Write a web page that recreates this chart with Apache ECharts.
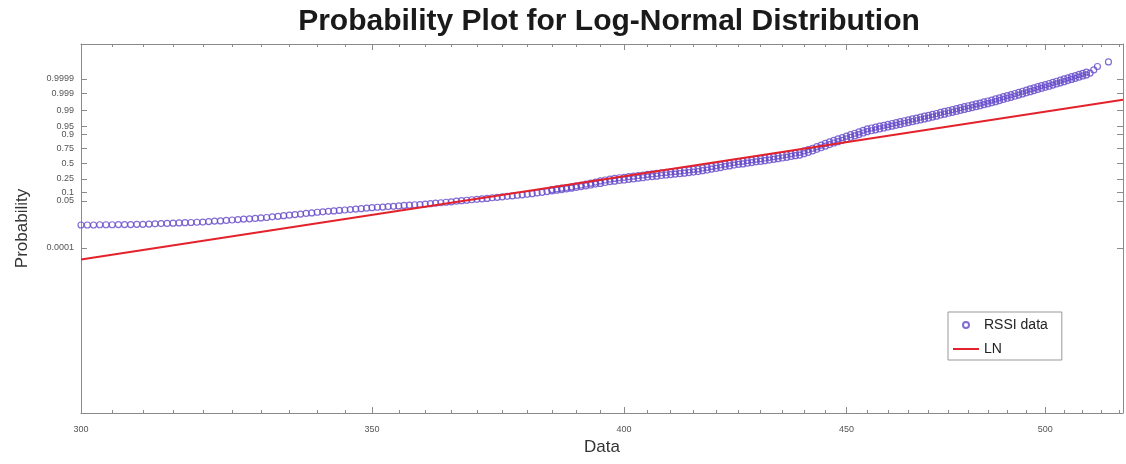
<!DOCTYPE html>
<html>
<head>
<meta charset="utf-8">
<script src="https://cdn.jsdelivr.net/npm/echarts@6/dist/echarts.min.js"></script>
<style>
  html, body { margin: 0; padding: 0; background: #fff; }
  #main { width: 1126px; height: 464px; }
</style>
</head>
<body>
<div id="main"></div>
<script>
// 数据 RSSI 值（x 轴，对数刻度）
const rssiX = [
  300,301,302,303,304,305,306,307,308,309,
  310,311,312,313,314,315,316,317,318,319,
  320,321,322,323,324,325,326,327,328,329,
  330,331,332,333,334,335,336,337,338,339,
  340,341,342,343,344,345,346,347,348,349,
  350,351,352,353,354,355,356,357,358,359,
  360,361,362,363,364,365,366,367,368,369,
  370,371,372,373,374,375,376,377,378,379,
  380,381,382,383,384,385,386,387,388,389,
  390,391,392,393,394,395,396,397,398,399,
  400,401,402,403,404,405,406,407,408,409,
  410,411,412,413,414,415,416,417,418,419,
  420,421,422,423,424,425,426,427,428,429,
  430,431,432,433,434,435,436,437,438,439,
  440,441,442,443,444,445,446,447,448,449,
  450,451,452,453,454,455,456,457,458,459,
  460,461,462,463,464,465,466,467,468,469,
  470,471,472,473,474,475,476,477,478,479,
  480,481,482,483,484,485,486,487,488,489,
  490,491,492,493,494,495,496,497,498,499,
  500,501,502,503,504,505,506,507,508,509,
  510,511,512,513,514,517
]
// 对应的正态分位数（概率轴的线性单位）
const rssiScore = [
  -2.71,-2.71,-2.71,-2.70,-2.70,-2.70,-2.69,-2.69,-2.69,-2.68,
  -2.68,-2.67,-2.66,-2.65,-2.64,-2.63,-2.62,-2.61,-2.60,-2.59,
  -2.58,-2.56,-2.54,-2.53,-2.51,-2.49,-2.47,-2.45,-2.44,-2.42,
  -2.40,-2.38,-2.35,-2.33,-2.30,-2.28,-2.25,-2.23,-2.20,-2.18,
  -2.15,-2.13,-2.11,-2.09,-2.07,-2.05,-2.03,-2.01,-1.99,-1.97,
  -1.95,-1.93,-1.92,-1.90,-1.89,-1.87,-1.85,-1.84,-1.82,-1.81,
  -1.79,-1.77,-1.75,-1.73,-1.71,-1.69,-1.66,-1.64,-1.62,-1.60,
  -1.58,-1.56,-1.54,-1.51,-1.49,-1.47,-1.45,-1.43,-1.40,-1.38,
  -1.36,-1.33,-1.30,-1.27,-1.24,-1.21,-1.18,-1.15,-1.12,-1.09,
  -1.06,-1.02,-0.99,-0.95,-0.91,-0.88,-0.84,-0.80,-0.78,-0.75,
  -0.73,-0.70,-0.68,-0.65,-0.63,-0.60,-0.58,-0.56,-0.53,-0.51,
  -0.49,-0.47,-0.45,-0.43,-0.40,-0.38,-0.36,-0.32,-0.29,-0.25,
  -0.22,-0.18,-0.14,-0.11,-0.07,-0.04,-0.02,0.01,0.04,0.07,
  0.09,0.12,0.15,0.18,0.21,0.24,0.27,0.31,0.34,0.37,
  0.43,0.49,0.55,0.62,0.69,0.76,0.83,0.90,0.96,1.02,
  1.08,1.15,1.21,1.27,1.34,1.40,1.44,1.48,1.52,1.56,
  1.60,1.64,1.68,1.72,1.76,1.80,1.84,1.88,1.92,1.96,
  2.00,2.04,2.08,2.13,2.17,2.21,2.25,2.29,2.34,2.38,
  2.42,2.46,2.50,2.54,2.59,2.63,2.67,2.72,2.77,2.82,
  2.87,2.91,2.96,3.01,3.06,3.11,3.16,3.21,3.26,3.31,
  3.35,3.40,3.45,3.50,3.55,3.60,3.65,3.70,3.75,3.80,
  3.85,3.90,3.98,4.12,4.27,4.47
]
// 重复的 RSSI 值（右侧较粗的那一段上沿）
const rssiX2 = [
  385,386,387,388,389,390,391,392,393,394,
  395,396,397,398,399,
  400,401,402,403,404,405,406,407,408,409,
  410,411,412,413,414,415,416,417,418,419,
  420,421,422,423,424,425,426,427,428,429,
  430,431,432,433,434,435,436,437,438,439,
  440,441,442,443,444,445,446,447,448,449,
  450,451,452,453,454,455,456,457,458,459,
  460,461,462,463,464,465,466,467,468,469,
  470,471,472,473,474,475,476,477,478,479,
  480,481,482,483,484,485,486,487,488,489,
  490,491,492,493,494,495,496,497,498,499,
  500,501,502,503,504,505,506,507,508,509,
  510,511
]
const rssiScore2 = [
  -1.15,-1.12,-1.09,-1.06,-1.03,-0.99,-0.95,-0.91,-0.87,-0.82,
  -0.77,-0.73,-0.69,-0.66,-0.63,
  -0.61,-0.58,-0.56,-0.53,-0.51,-0.48,-0.46,-0.44,-0.41,-0.39,
  -0.37,-0.35,-0.33,-0.31,-0.28,-0.26,-0.24,-0.20,-0.17,-0.13,
  -0.10,-0.06,-0.02,0.01,0.05,0.08,0.10,0.13,0.16,0.19,
  0.21,0.24,0.27,0.30,0.33,0.36,0.39,0.43,0.46,0.49,
  0.55,0.61,0.67,0.74,0.81,0.88,0.95,1.02,1.08,1.14,
  1.20,1.27,1.33,1.39,1.46,1.52,1.56,1.60,1.64,1.68,
  1.72,1.76,1.80,1.84,1.88,1.92,1.96,2.00,2.04,2.08,
  2.12,2.16,2.20,2.25,2.29,2.33,2.37,2.41,2.46,2.50,
  2.54,2.58,2.62,2.66,2.71,2.75,2.79,2.84,2.89,2.94,
  2.99,3.03,3.08,3.13,3.18,3.23,3.28,3.33,3.38,3.43,
  3.47,3.52,3.57,3.62,3.67,3.72,3.77,3.82,3.87,3.92,
  3.97,4.02
]
// 对数正态拟合线的两个端点
const lnX = [300, 521]
const lnScore = [-4.23, 2.80]

// 刻度
const xTicks = [300, 350, 400, 450, 500]
const probTicks = [0.0001, 0.05, 0.1, 0.25, 0.5, 0.75, 0.9, 0.95, 0.99, 0.999, 0.9999]

// 正态分布反函数（Acklam 近似），用来把概率刻度放到轴上
function norminv(p) {
  const a = [-39.6968302866538, 220.946098424521, -275.928510446969, 138.357751867269, -30.6647980661472, 2.50662827745924]
  const b = [-54.4760987982241, 161.585836858041, -155.698979859887, 66.8013118877197, -13.2806815528857]
  const c = [-0.00778489400243029, -0.322396458041136, -2.40075827716184, -2.54973253934373, 4.37466414146497, 2.93816398269878]
  const d = [0.00778469570904146, 0.32246712907004, 2.445134137143, 3.75440866190742]
  const pl = 0.02425
  let q, r
  if (p < pl) {
    q = Math.sqrt(-2 * Math.log(p))
    return (((((c[0]*q+c[1])*q+c[2])*q+c[3])*q+c[4])*q+c[5]) / ((((d[0]*q+d[1])*q+d[2])*q+d[3])*q+1)
  }
  if (p > 1 - pl) {
    q = Math.sqrt(-2 * Math.log(1 - p))
    return -(((((c[0]*q+c[1])*q+c[2])*q+c[3])*q+c[4])*q+c[5]) / ((((d[0]*q+d[1])*q+d[2])*q+d[3])*q+1)
  }
  q = p - 0.5
  r = q * q
  return (((((a[0]*r+a[1])*r+a[2])*r+a[3])*r+a[4])*r+a[5])*q / (((((b[0]*r+b[1])*r+b[2])*r+b[3])*r+b[4])*r+1)
}

const probPos = probTicks.map(norminv)
const xMinor = []
for (let v = 305; v <= 520; v += 5) if (v % 50 !== 0) xMinor.push(v)

const axisColor = '#8a8a8a'
const labelStyle = { color: '#555', fontSize: 9, fontFamily: 'Liberation Sans' }
const xMin = 300, xMax = 521, yMin = -10.99, yMax = 5.26

function xAxisOf(pos, ticks, len, showLabel) {
  return {
    type: 'log', logBase: 10, position: pos, min: xMin, max: xMax,
    axisLine: { show: len > 4, onZero: false, lineStyle: { color: axisColor, width: 1 } },
    axisTick: { show: true, inside: true, length: len, customValues: ticks, lineStyle: { color: axisColor } },
    axisLabel: showLabel ? Object.assign({ show: true, customValues: xTicks, margin: 12, formatter: '{value}' }, labelStyle) : { show: false },
    splitLine: { show: false }, minorTick: { show: false }
  }
}

const scatterData = rssiX.map((x, i) => [x, rssiScore[i]])
  .concat(rssiX2.map((x, i) => [x, rssiScore2[i]]))

const myChart = echarts.init(document.getElementById('main'))
const option = {
  backgroundColor: '#fff',
  animation: false,
  title: {
    text: 'Probability Plot for Log-Normal Distribution',
    left: 604, textAlign: 'center', top: 2,
    textStyle: { fontSize: 30, fontWeight: 'bold', color: '#1a1a1a', fontFamily: 'Liberation Sans' }
  },
  legend: {
    orient: 'vertical', left: 948, top: 312,
    data: [
      { name: 'RSSI data', icon: 'path://M0,0 M26,12 M16,6 A3,3 0 1 1 10,6 A3,3 0 1 1 16,6 Z' },
      { name: 'LN', icon: 'path://M0,0 M26,12 M0,5 L26,5 L26,7 L0,7 Z' }
    ],
    backgroundColor: '#fff', borderColor: '#999', borderWidth: 1, borderRadius: 0,
    padding: [6, 14, 4, 4], itemGap: 10, itemWidth: 26, itemHeight: 12,
    textStyle: { fontSize: 14, color: '#222', fontFamily: 'Liberation Sans' }
  },
  grid: { left: 81, right: 3, top: 44, bottom: 51, containLabel: false },
  xAxis: [
    Object.assign(xAxisOf('bottom', xTicks, 6, true), {
      name: 'Data', nameLocation: 'middle', nameGap: 26,
      nameTextStyle: { fontSize: 17, color: '#333', fontFamily: 'Liberation Sans' }
    }),
    xAxisOf('bottom', xMinor, 3, false),
    xAxisOf('top', xTicks, 6, false),
    xAxisOf('top', xMinor, 3, false)
  ],
  yAxis: [
    {
      type: 'value', position: 'left', min: yMin, max: yMax,
      name: 'Probability', nameLocation: 'middle', nameGap: 50,
      nameTextStyle: { fontSize: 17, color: '#333', fontFamily: 'Liberation Sans' },
      axisLine: { show: true, onZero: false, lineStyle: { color: axisColor } },
      axisTick: { show: true, inside: true, length: 6, customValues: probPos, lineStyle: { color: axisColor } },
      axisLabel: Object.assign({
        show: true, customValues: probPos, margin: 7,
        formatter: function (v) {
          for (let i = 0; i < probPos.length; i++) if (Math.abs(probPos[i] - v) < 1e-6) return String(probTicks[i])
          return ''
        }
      }, labelStyle),
      splitLine: { show: false }
    },
    {
      type: 'value', position: 'right', min: yMin, max: yMax,
      axisLine: { show: true, onZero: false, lineStyle: { color: axisColor } },
      axisTick: { show: true, inside: true, length: 6, customValues: probPos, lineStyle: { color: axisColor } },
      axisLabel: { show: false },
      splitLine: { show: false }
    }
  ],
  series: [
    {
      name: 'RSSI data',
      type: 'scatter',
      symbol: 'circle',
      symbolSize: 6,
      itemStyle: { color: 'rgba(255,255,255,0)', borderColor: '#6448c8', borderWidth: 1.2 },
      data: scatterData,
      z: 2
    },
    {
      name: 'LN',
      type: 'line',
      symbol: 'none',
      lineStyle: { color: '#e3222b', width: 2 },
      itemStyle: { color: '#e3222b' },
      data: lnX.map((x, i) => [x, lnScore[i]]),
      z: 3
    }
  ]
}
myChart.setOption(option)
</script>
</body>
</html>
